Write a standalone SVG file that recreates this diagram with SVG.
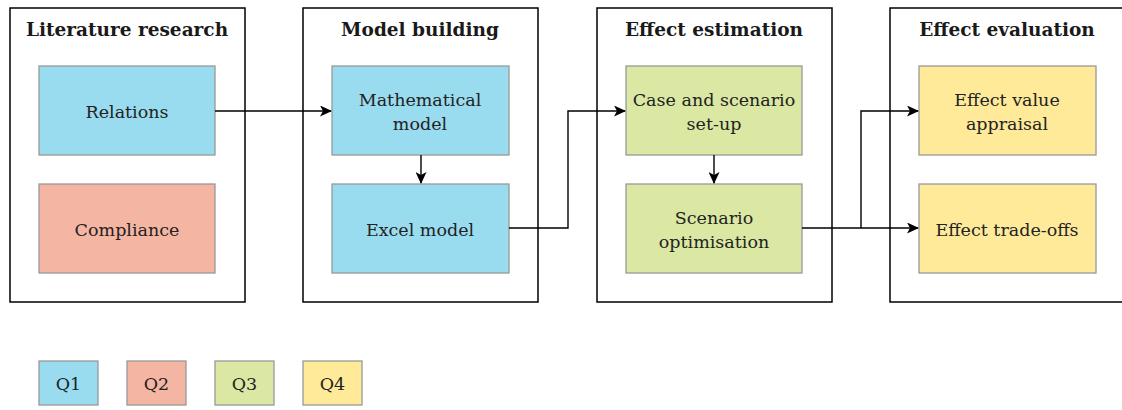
<svg xmlns="http://www.w3.org/2000/svg" width="1122" height="410" viewBox="0 0 1122 410">
<defs>
<marker id="ah" markerWidth="12" markerHeight="11" refX="11" refY="5.5" orient="auto" markerUnits="userSpaceOnUse">
<path d="M0,0 L12,5.5 L0,11 L3,5.5 Z" fill="#000"/>
</marker>
</defs>
<style>
.outer{fill:#fff;stroke:#000;stroke-width:1.5}
.node{stroke:#999;stroke-width:1.3}
.q1{fill:#9ADCEF}.q2{fill:#F5B5A3}.q3{fill:#DAE8A3}.q4{fill:#FFEA9A}
.title{font-family:"DejaVu Serif","Liberation Serif",serif;font-weight:bold;font-size:18.5px;fill:#1a1a1a;text-anchor:middle}
.lbl{font-family:"DejaVu Serif","Liberation Serif",serif;font-size:17.5px;fill:#222;text-anchor:middle}
.conn{fill:none;stroke:#000;stroke-width:1.4}
</style>
<rect width="1122" height="410" fill="#fff"/>
<g id="stage1">
<rect class="outer" x="10" y="8" width="235" height="294"/>
<text class="title" x="127" y="36">Literature research</text>
</g>
<g id="stage2">
<rect class="outer" x="303" y="8" width="235" height="294"/>
<text class="title" x="420" y="36">Model building</text>
</g>
<g id="stage3">
<rect class="outer" x="597" y="8" width="235" height="294"/>
<text class="title" x="714" y="36">Effect estimation</text>
</g>
<g id="stage4">
<rect class="outer" x="890" y="8" width="240" height="294"/>
<text class="title" x="1007" y="36">Effect evaluation</text>
</g>
<g id="relations">
<rect class="node q1" x="39" y="66" width="176" height="89"/>
<text class="lbl" x="127" y="118">Relations</text>
</g>
<g id="compliance">
<rect class="node q2" x="39" y="184" width="176" height="89"/>
<text class="lbl" x="127" y="236">Compliance</text>
</g>
<g id="math">
<rect class="node q1" x="332" y="66" width="177" height="89"/>
<text class="lbl" x="420" y="106">Mathematical</text>
<text class="lbl" x="420" y="130">model</text>
</g>
<g id="excel">
<rect class="node q1" x="332" y="184" width="177" height="89"/>
<text class="lbl" x="420" y="236">Excel model</text>
</g>
<g id="case">
<rect class="node q3" x="626" y="66" width="176" height="89"/>
<text class="lbl" x="714" y="106">Case and scenario</text>
<text class="lbl" x="714" y="130">set-up</text>
</g>
<g id="optim">
<rect class="node q3" x="626" y="184" width="176" height="89"/>
<text class="lbl" x="714" y="224">Scenario</text>
<text class="lbl" x="714" y="248">optimisation</text>
</g>
<g id="appraisal">
<rect class="node q4" x="919" y="66" width="177" height="89"/>
<text class="lbl" x="1007" y="106">Effect value</text>
<text class="lbl" x="1007" y="130">appraisal</text>
</g>
<g id="tradeoffs">
<rect class="node q4" x="919" y="184" width="177" height="89"/>
<text class="lbl" x="1007" y="236">Effect trade-offs</text>
</g>
<g id="connectors">
<path class="conn" d="M215,111 H331" marker-end="url(#ah)"/>
<path class="conn" d="M421,155 V183" marker-end="url(#ah)"/>
<path class="conn" d="M509,228 H568 V111 H625" marker-end="url(#ah)"/>
<path class="conn" d="M714,155 V183" marker-end="url(#ah)"/>
<path class="conn" d="M802,228 H918" marker-end="url(#ah)"/>
<path class="conn" d="M861,228 V111 H918" marker-end="url(#ah)"/>
</g>
<g id="legend">
<rect class="node q1" x="39" y="361" width="59" height="44"/>
<text class="lbl" x="68.5" y="390">Q1</text>
<rect class="node q2" x="127" y="361" width="59" height="44"/>
<text class="lbl" x="156.5" y="390">Q2</text>
<rect class="node q3" x="215" y="361" width="59" height="44"/>
<text class="lbl" x="244.5" y="390">Q3</text>
<rect class="node q4" x="303" y="361" width="59" height="44"/>
<text class="lbl" x="332.5" y="390">Q4</text>
</g>
</svg>
